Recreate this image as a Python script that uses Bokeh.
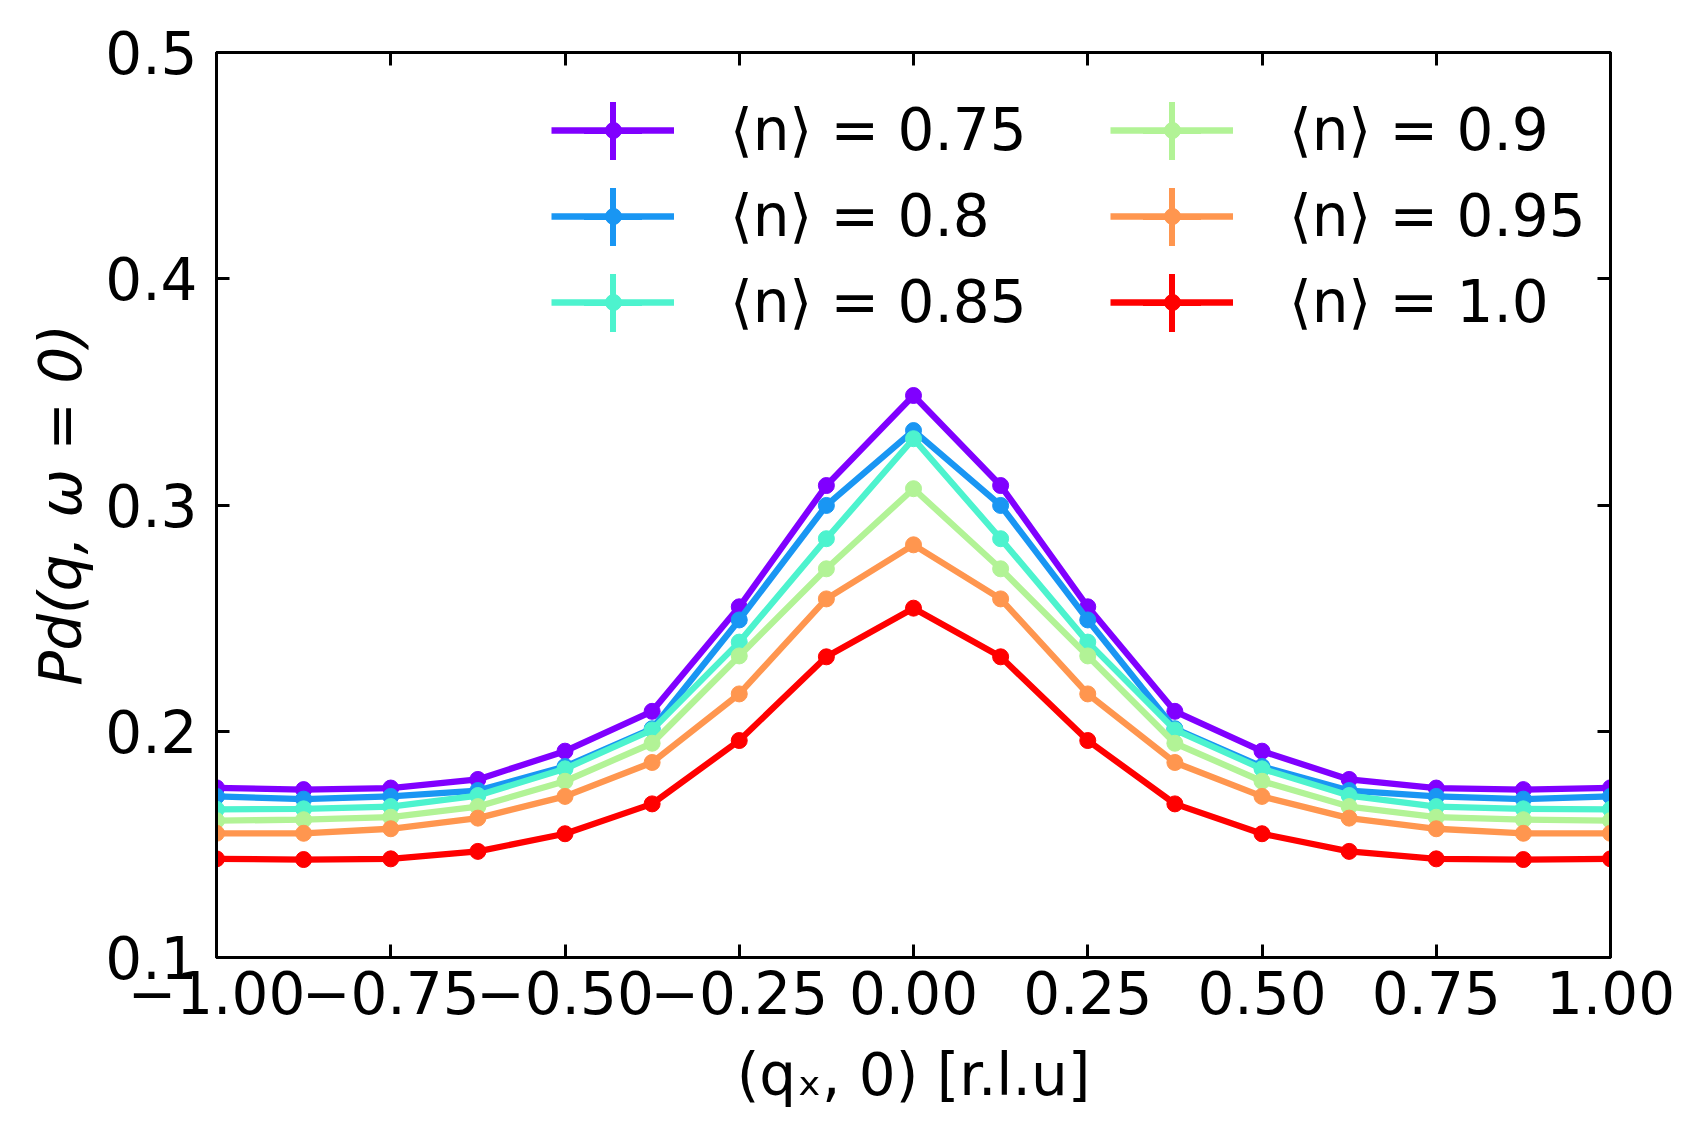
from bokeh.plotting import figure
from bokeh.models import (FixedTicker, LinearAxis, Legend, LegendItem, Range1d,
                          CustomJSTickFormatter)
from bokeh.embed import file_html
from bokeh.resources import INLINE

# ---------------- data ----------------
qx = [-1.0, -0.875, -0.75, -0.625, -0.5, -0.375, -0.25, -0.125, 0.0,
      0.125, 0.25, 0.375, 0.5, 0.625, 0.75, 0.875, 1.0]

pd_n075 = [0.1750, 0.1742, 0.1749, 0.1787, 0.1912, 0.2088, 0.2550, 0.3086, 0.3484,
           0.3086, 0.2550, 0.2088, 0.1912, 0.1787, 0.1749, 0.1742, 0.1750]
pd_n080 = [0.1712, 0.1700, 0.1712, 0.1738, 0.1844, 0.2011, 0.2492, 0.2998, 0.3329,
           0.2998, 0.2492, 0.2011, 0.1844, 0.1738, 0.1712, 0.1700, 0.1712]
pd_n085 = [0.1655, 0.1657, 0.1667, 0.1716, 0.1834, 0.2006, 0.2394, 0.2851, 0.3293,
           0.2851, 0.2394, 0.2006, 0.1834, 0.1716, 0.1667, 0.1657, 0.1655]
pd_n090 = [0.1605, 0.1609, 0.1620, 0.1667, 0.1779, 0.1947, 0.2333, 0.2718, 0.3072,
           0.2718, 0.2333, 0.1947, 0.1779, 0.1667, 0.1620, 0.1609, 0.1605]
pd_n095 = [0.1549, 0.1549, 0.1569, 0.1616, 0.1712, 0.1862, 0.2165, 0.2585, 0.2824,
           0.2585, 0.2165, 0.1862, 0.1712, 0.1616, 0.1569, 0.1549, 0.1549]
pd_n100 = [0.1436, 0.1433, 0.1436, 0.1469, 0.1547, 0.1679, 0.1959, 0.2329, 0.2544,
           0.2329, 0.1959, 0.1679, 0.1547, 0.1469, 0.1436, 0.1433, 0.1436]

series_values = [pd_n075, pd_n080, pd_n085, pd_n090, pd_n095, pd_n100]
legend_labels = ["⟨n⟩ = 0.75", "⟨n⟩ = 0.8", "⟨n⟩ = 0.85",
                 "⟨n⟩ = 0.9", "⟨n⟩ = 0.95", "⟨n⟩ = 1.0"]
colors = ["#8000ff", "#1996f3", "#4df3ce", "#b2f396", "#ff964f", "#ff0000"]

x_ticks = [-1.0, -0.75, -0.5, -0.25, 0.0, 0.25, 0.5, 0.75, 1.0]
x_tick_labels = ["−1.00", "−0.75", "−0.50", "−0.25", "0.00", "0.25", "0.50", "0.75", "1.00"]
y_ticks = [0.1, 0.2, 0.3, 0.4, 0.5]
y_tick_labels = ["0.1", "0.2", "0.3", "0.4", "0.5"]

x_label = "(qₓ, 0) [r.l.u]"
y_label = "Pd(q, ω = 0)"

# ---------------- figure ----------------
FONT = "DejaVu Sans"
FS = "58px"

p = figure(frame_width=1394, frame_height=905,
           x_range=Range1d(-1.0, 1.0), y_range=Range1d(0.1, 0.5),
           output_backend="svg", toolbar_location=None,
           min_border_left=216, min_border_right=78,
           min_border_top=52, min_border_bottom=164)
p.grid.visible = False
p.outline_line_color = "black"
p.outline_line_width = 3
p.background_fill_color = "white"
p.border_fill_color = "white"

def style_axis(ax, show_labels=True):
    ax.major_tick_in = 13
    ax.major_tick_out = 0
    ax.minor_tick_line_color = None
    ax.major_tick_line_width = 3
    ax.major_tick_line_color = "black"
    ax.axis_line_width = 3
    ax.axis_line_color = "black"
    ax.major_label_text_font = FONT
    ax.major_label_text_color = "black"
    if show_labels:
        ax.major_label_text_font_size = FS
    else:
        ax.major_label_text_font_size = "1px"
        ax.formatter = CustomJSTickFormatter(code="return ''")

xax = p.xaxis[0]
yax = p.yaxis[0]
xax.ticker = FixedTicker(ticks=x_ticks)
yax.ticker = FixedTicker(ticks=y_ticks)
xax.major_label_overrides = dict(zip(x_ticks, x_tick_labels))
yax.major_label_overrides = dict(zip(y_ticks, y_tick_labels))
style_axis(xax)
style_axis(yax)
xax.major_label_standoff = 13
yax.major_label_standoff = 19

xax.axis_label = x_label
xax.axis_label_text_font = FONT
xax.axis_label_text_font_size = FS
xax.axis_label_text_font_style = "normal"
xax.axis_label_text_color = "black"
xax.axis_label_standoff = 24
yax.axis_label = y_label
yax.axis_label_text_font = FONT
yax.axis_label_text_font_size = FS
yax.axis_label_text_font_style = "italic"
yax.axis_label_text_color = "black"
yax.axis_label_standoff = 7

top_ax = LinearAxis(ticker=FixedTicker(ticks=x_ticks))
right_ax = LinearAxis(ticker=FixedTicker(ticks=y_ticks))
style_axis(top_ax, show_labels=False)
style_axis(right_ax, show_labels=False)
p.add_layout(top_ax, "above")
p.add_layout(right_ax, "right")

# ---------------- series ----------------
line_items, dot_items, bar_renderers = [], [], []
for vals, col, lab in zip(series_values, colors, legend_labels):
    r_line = p.line(qx, vals, line_color=col, line_width=6.3)
    # tiny error bars, mostly hidden under the markers
    r_bar = p.scatter(qx, vals, marker="cross", size=12,
                      line_color=col, line_width=6)
    r_dot = p.scatter(qx, vals, marker="circle", size=16, fill_color=col,
                      line_color=col, line_width=1)
    line_items.append(LegendItem(label=lab, renderers=[r_line]))
    dot_items.append(LegendItem(label=" ", renderers=[r_dot]))
    bar_renderers.append(r_bar)

common = dict(orientation="vertical", ncols=2, padding=0, margin=0,
              label_text_font=FONT, label_text_font_size=FS, label_height=68,
              label_width=362, border_line_color=None, background_fill_alpha=0,
              click_policy="none")

LX, LY = 335, 621
COL_STEP, ROW_STEP = 559, 86

# error-bar keys of the legend: one small legend per entry
for k, r_bar in enumerate(bar_renderers):
    col_i, row_i = divmod(k, 3)
    leg_bar = Legend(items=[LegendItem(label=" ", renderers=[r_bar])],
                     location=(LX - 11 + COL_STEP * col_i, LY + 133.5 - ROW_STEP * row_i),
                     glyph_width=145, glyph_height=145, label_standoff=0,
                     label_width=1, label_height=1, label_text_font_size="10px",
                     label_text_alpha=0, padding=0, margin=0, spacing=0,
                     border_line_color=None, background_fill_alpha=0,
                     click_policy="none")
    p.add_layout(leg_bar, "center")

leg_lines = Legend(items=line_items, location=(LX, LY), glyph_width=123,
                   glyph_height=60, label_standoff=56, spacing=18,
                   label_text_color="black", **common)
leg_dots = Legend(items=dot_items, location=(LX + 41.5, LY), glyph_width=40,
                  glyph_height=40, label_standoff=139, spacing=18,
                  label_text_alpha=0, **common)
p.add_layout(leg_lines, "center")
p.add_layout(leg_dots, "center")

open("out.html", "w").write(file_html(p, INLINE))
